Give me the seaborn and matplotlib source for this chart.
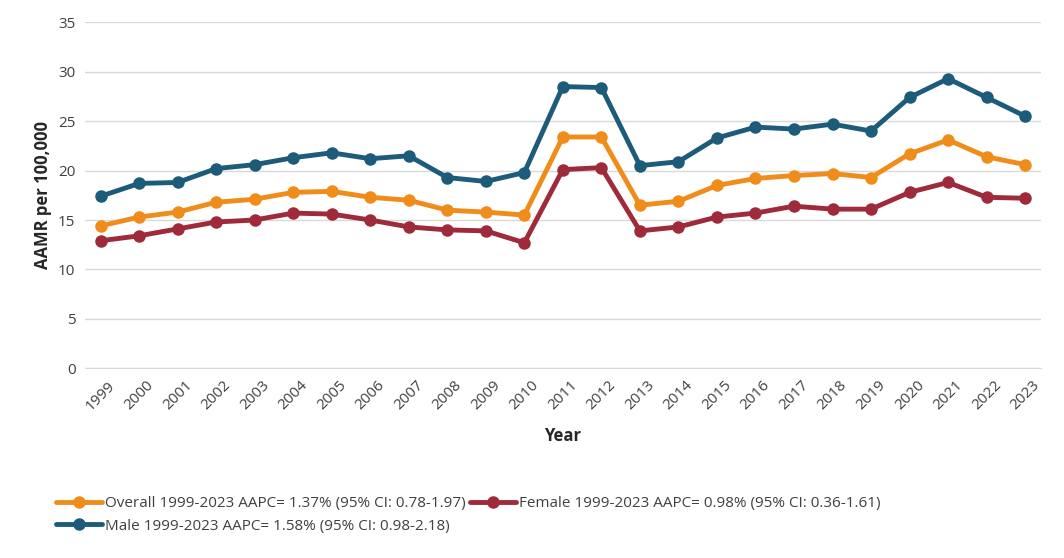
import pandas as pd
import seaborn as sns
import matplotlib.pyplot as plt

years = list(range(1999, 2024))
overall = [14.4, 15.3, 15.8, 16.8, 17.1, 17.8, 17.9, 17.3, 17.0, 16.0, 15.8, 15.5, 23.4, 23.4,
           16.5, 16.9, 18.5, 19.2, 19.5, 19.7, 19.3, 21.7, 23.1, 21.4, 20.6]
female = [12.9, 13.4, 14.1, 14.8, 15.0, 15.7, 15.6, 15.0, 14.3, 14.0, 13.9, 12.7, 20.1, 20.3,
          13.9, 14.3, 15.3, 15.7, 16.4, 16.1, 16.1, 17.8, 18.8, 17.3, 17.2]
male = [17.4, 18.7, 18.8, 20.2, 20.6, 21.3, 21.8, 21.2, 21.5, 19.3, 18.9, 19.8, 28.5, 28.4,
        20.5, 20.9, 23.3, 24.4, 24.2, 24.7, 24.0, 27.4, 29.3, 27.4, 25.5]
labels = ["Overall 1999-2023 AAPC= 1.37% (95% CI: 0.78-1.97)",
          "Female 1999-2023 AAPC= 0.98% (95% CI: 0.36-1.61)",
          "Male 1999-2023 AAPC= 1.58% (95% CI: 0.98-2.18)"]
colors = ["#F08C1A", "#9E2A3A", "#1D5B7A"]

df = pd.concat([pd.DataFrame({"Year": years, "AAMR": v, "Group": lab})
                for v, lab in zip([overall, female, male], labels)])

sns.set_style("white")
plt.rcParams['font.family'] = ['Open Sans', 'DejaVu Sans']
fig, ax = plt.subplots(figsize=(10.64, 5.58), dpi=100)
fig.subplots_adjust(left=0.08, right=0.978, top=0.96, bottom=0.34)
sns.lineplot(data=df, x="Year", y="AAMR", hue="Group", palette=colors, marker="o",
             markersize=9, markeredgewidth=0, linewidth=3.5, ax=ax)
ax.set_ylim(0, 35)
ax.set_yticks(range(0, 36, 5))
ax.set_xlim(1998.6, 2023.4)
ax.set_xticks(years)
ax.set_xticklabels([str(y) for y in years], rotation=45, fontsize=11, color="#404040")
ax.tick_params(axis='y', labelsize=11, labelcolor="#404040")
ax.grid(axis='y', color="#d9d9d9", linewidth=1)
for s in ["top", "right", "left"]:
    ax.spines[s].set_visible(False)
ax.spines["bottom"].set_color("#d9d9d9")
ax.set_xlabel("Year", fontsize=12, fontweight="bold", labelpad=10)
ax.set_ylabel("AAMR per 100,000", fontsize=12, fontweight="bold")
# legend is filled column-wise; reorder so rows read Overall, Female / Male
h, l = ax.get_legend_handles_labels()
order = [0, 2, 1]
ax.legend([h[i] for i in order], [l[i] for i in order], loc="upper left",
          bbox_to_anchor=(-0.045, -0.33), ncol=2, frameon=False,
          fontsize=11, handlelength=3, columnspacing=0.3, handletextpad=0.2,
          labelcolor="#404040")
fig.savefig("out.png")
